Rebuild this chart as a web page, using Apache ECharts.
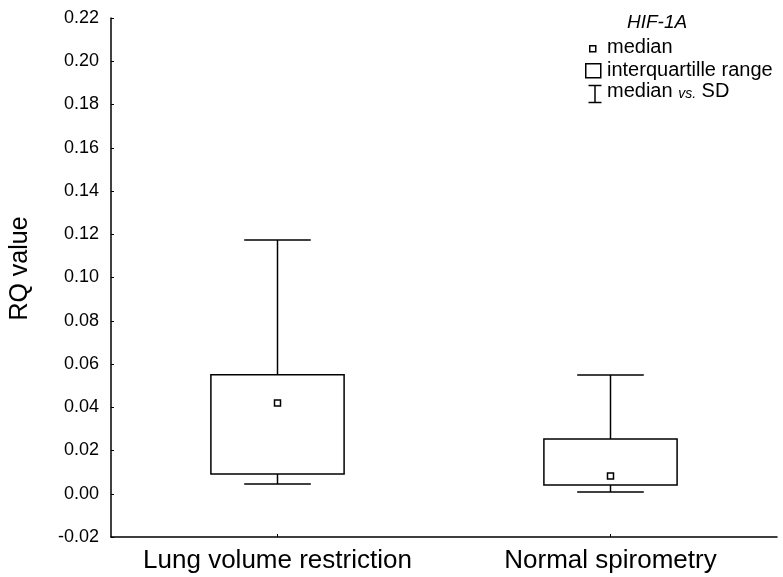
<!DOCTYPE html>
<html>
<head>
<meta charset="utf-8">
<title>HIF-1A RQ value</title>
<script src="https://cdn.jsdelivr.net/npm/echarts@6/dist/echarts.min.js"></script>
<style>
  html, body { margin: 0; padding: 0; background: #fff; }
  #main { width: 783px; height: 577px; }
</style>
</head>
<body>
<div id="main"></div>
<script>
// groups on the x axis
var categories = ['Lung volume restriction', 'Normal spirometry'];
// values
var whiskerLow = [0.0045, 0.0008];   // lower end of the error bar
var q1 = [0.0091, 0.0040];           // bottom of the box
var median = [0.0420, 0.0082];       // small square
var q3 = [0.0550, 0.0253];           // top of the box
var whiskerHigh = [0.1173, 0.0549];  // upper end of the error bar
// y axis range
var yMin = -0.02;
var yMax = 0.22;
var yStep = 0.02;

var font = 'Liberation Sans, Arial, Helvetica, sans-serif';
var myChart = echarts.init(document.getElementById('main'));

var boxData = categories.map(function (c, i) {
    return [i, whiskerLow[i], q1[i], median[i], q3[i], whiskerHigh[i]];
});

//箱体 + 误差线
function renderBox(params, api) {
    var idx = api.value(0);
    var pLow = api.coord([idx, api.value(1)]);
    var pQ1 = api.coord([idx, api.value(2)]);
    var pMed = api.coord([idx, api.value(3)]);
    var pQ3 = api.coord([idx, api.value(4)]);
    var pHigh = api.coord([idx, api.value(5)]);
    var band = api.size([1, 0])[0];
    var boxW = band * 0.40;
    var capW = band * 0.20;
    var cx = pMed[0];
    var st = { stroke: '#000', lineWidth: 1.5, fill: null };
    return {
        type: 'group',
        children: [
            { type: 'line', shape: { x1: cx, y1: pQ3[1], x2: cx, y2: pHigh[1] }, style: st },
            { type: 'line', shape: { x1: cx - capW / 2, y1: pHigh[1], x2: cx + capW / 2, y2: pHigh[1] }, style: st },
            { type: 'line', shape: { x1: cx, y1: pQ1[1], x2: cx, y2: pLow[1] }, style: st },
            { type: 'line', shape: { x1: cx - capW / 2, y1: pLow[1], x2: cx + capW / 2, y2: pLow[1] }, style: st },
            { type: 'rect', shape: { x: cx - boxW / 2, y: pQ3[1], width: boxW, height: pQ1[1] - pQ3[1] },
              style: { stroke: '#000', lineWidth: 1.5, fill: '#fff' } },
            { type: 'rect', shape: { x: cx - 3, y: pMed[1] - 3, width: 6, height: 6 },
              style: { stroke: '#000', lineWidth: 1.5, fill: '#fff' } }
        ]
    };
}

var option = {
    backgroundColor: '#fff',
    animation: false,
    textStyle: { fontFamily: font, color: '#000' },
    grid: { left: 109, right: 6, top: 18, bottom: 40, containLabel: false },
    xAxis: {
        type: 'category',
        data: categories,
        boundaryGap: true,
        axisLine: { onZero: false, lineStyle: { color: '#000', width: 1.5 } },
        axisTick: { show: true, inside: true, alignWithLabel: true, length: 3, lineStyle: { color: '#000' } },
        axisLabel: { color: '#000', fontSize: 26, margin: 11, interval: 0, hideOverlap: false, fontFamily: font },
        splitLine: { show: false }
    },
    yAxis: {
        type: 'value',
        min: yMin,
        max: yMax,
        interval: yStep,
        name: 'RQ value',
        nameLocation: 'middle',
        nameGap: 78,
        nameTextStyle: { color: '#000', fontSize: 25, fontFamily: font, padding: [0, 0, 0, 18] },
        axisLine: { show: true, lineStyle: { color: '#000', width: 1.5 } },
        axisTick: { show: true, inside: true, length: 3, lineStyle: { color: '#000' } },
        axisLabel: {
            color: '#000', fontSize: 18, margin: 12, fontFamily: font,
            formatter: function (v) { return v.toFixed(2); }
        },
        splitLine: { show: false }
    },
    graphic: [
        { type: 'text', left: 627, top: 13,
          style: { text: 'HIF-1A', font: 'italic 19px ' + font, fill: '#000' } },
        { type: 'rect', left: 589, top: 45, shape: { width: 6, height: 6 },
          style: { stroke: '#000', lineWidth: 1.5, fill: '#fff' } },
        { type: 'text', left: 607, top: 37,
          style: { text: 'median', font: '20px ' + font, fill: '#000' } },
        { type: 'rect', left: 585, top: 63, shape: { width: 15, height: 14 },
          style: { stroke: '#000', lineWidth: 1.5, fill: '#fff' } },
        { type: 'text', left: 607, top: 60,
          style: { text: 'interquartille range', font: '20px ' + font, fill: '#000' } },
        { type: 'group', left: 586, top: 83, children: [
            { type: 'line', shape: { x1: 0, y1: 0, x2: 13, y2: 0 }, style: { stroke: '#000', lineWidth: 1.5 } },
            { type: 'line', shape: { x1: 6.5, y1: 0, x2: 6.5, y2: 17 }, style: { stroke: '#000', lineWidth: 1.5 } },
            { type: 'line', shape: { x1: 0, y1: 17, x2: 13, y2: 17 }, style: { stroke: '#000', lineWidth: 1.5 } }
        ] },
        { type: 'text', left: 607, top: 81,
          style: {
              text: '{n|median }{i|vs.}{n| SD}',
              rich: {
                  n: { fontSize: 20, fontFamily: font, fill: '#000', color: '#000' },
                  i: { fontSize: 14, fontFamily: font, fontStyle: 'italic', fill: '#000', color: '#000', padding: [7, 0, 0, 0] }
              }
          } }
    ],
    series: [{
        type: 'custom',
        renderItem: renderBox,
        encode: { x: 0, y: [1, 2, 3, 4, 5] },
        data: boxData,
        clip: false
    }]
};
myChart.setOption(option);
</script>
</body>
</html>
